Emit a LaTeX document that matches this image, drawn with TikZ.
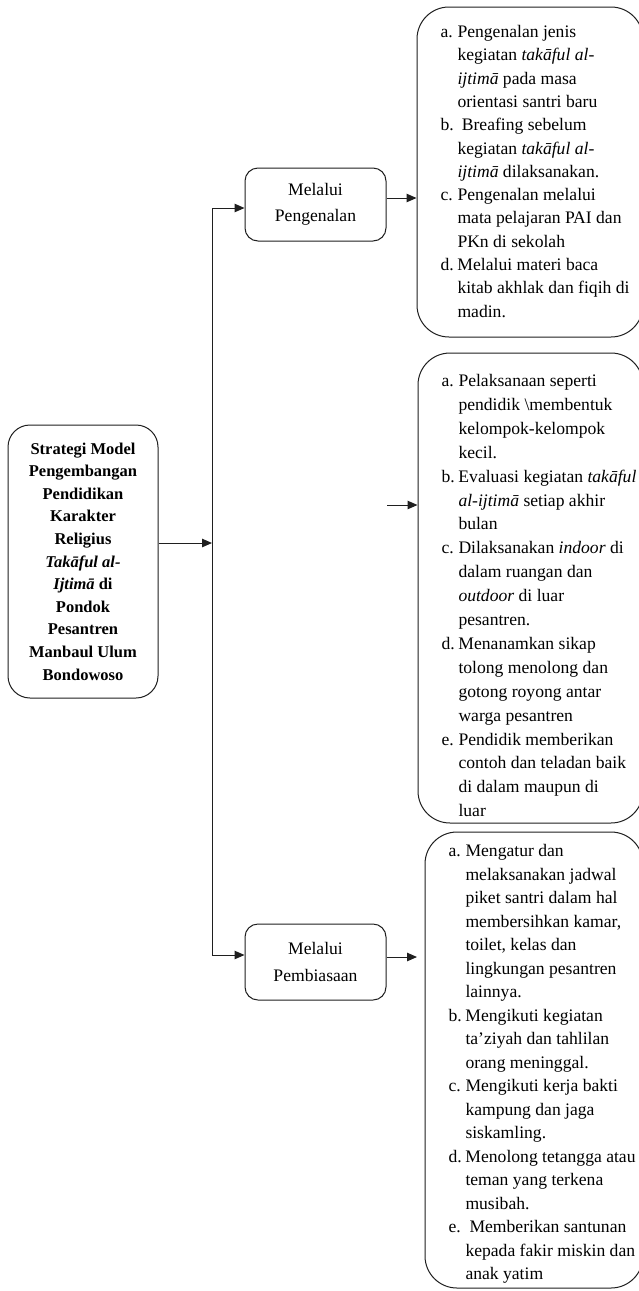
\documentclass[tikz,border=0pt]{standalone}
\usepackage{fontspec}
\setmainfont{Liberation Serif}
\usetikzlibrary{arrows.meta}

% list label of fixed width, continuation indent of the same width
\newcommand\lb[1]{\makebox[17pt][l]{#1}}
\newcommand\ind{\hspace*{17pt}}
% top-aligned text block whose baseline is that of its first line
\newcommand\listblock[2]{\begin{minipage}[t]{215pt}\parindent=0pt\fontsize{17.6}{#1}\selectfont #2\end{minipage}}

\begin{document}
\begin{tikzpicture}[x=1pt,y=-1pt,
  line width=1pt, draw=black!88,
  arr/.style={draw=black!88, line width=1pt, -{Triangle[length=10pt,width=8.5pt]}},
  mainbox/.style={draw, fill=white, rounded corners=22pt, align=center, inner sep=0pt,
    font=\fontsize{16.5}{22.6}\selectfont\bfseries},
  smallbox/.style={draw, fill=white, rounded corners=13pt, align=center, inner sep=0pt,
    minimum width=141pt, font=\fontsize{17.6}{26.5}\selectfont},
  bigbox/.style={draw, fill=white, rounded corners=32pt},
  listtext/.style={anchor=base west, inner sep=0pt}
]
\useasboundingbox (0,0) rectangle (639,1291);
\clip (0,0) rectangle (639,1291);
\fill[white] (0,0) rectangle (639,1291);

% central box
\node[mainbox, minimum width=150pt, minimum height=273pt] (main) at (83,561.5)
  {Strategi Model\\Pengembangan\\Pendidikan\\Karakter\\Religius\\
   \textit{Takāful al-}\\\textit{Ijtimā} di\\Pondok\\Pesantren\\Manbaul Ulum\\Bondowoso};

% strategy boxes
\node[smallbox, minimum height=73pt] (peng) at (315.5,204.5) {Melalui\\Pengenalan};
\node[smallbox, minimum height=76pt] (pemb) at (315.5,962) {Melalui\\Pembiasaan};

% detail boxes
\node[bigbox, minimum width=226pt, minimum height=330pt] (box1) at (530,172) {};
\node[bigbox, minimum width=225pt, minimum height=470pt] (box2) at (530.5,588) {};
\node[bigbox, minimum width=218pt, minimum height=456pt] (box3) at (534,1060) {};

\node[listtext] (t1) at (440,37.5) {\listblock{23.3}{%
\lb{a.}Pengenalan jenis\\
\ind kegiatan \textit{takāful al-}\\
\ind\textit{ijtimā} pada masa\\
\ind orientasi santri baru\\
\lb{b.}\ Breafing sebelum\\
\ind kegiatan \textit{takāful al-}\\
\ind\textit{ijtimā} dilaksanakan.\\
\lb{c.}Pengenalan melalui\\
\ind mata pelajaran PAI dan\\
\ind PKn di sekolah\\
\lb{d.}Melalui materi baca\\
\ind kitab akhlak dan fiqih di\\
\ind madin.}};

\node[listtext] (t2) at (441,386.5) {\listblock{23.9}{%
\lb{a.}Pelaksanaan seperti\\
\ind pendidik \textbackslash membentuk\\
\ind kelompok-kelompok\\
\ind kecil.\\
\lb{b.}Evaluasi kegiatan \textit{takāful}\\
\ind\textit{al-ijtimā} setiap akhir\\
\ind bulan\\
\lb{c.}Dilaksanakan \textit{indoor} di\\
\ind dalam ruangan dan\\
\ind\textit{outdoor} di luar\\
\ind pesantren.\\
\lb{d.}Menanamkan sikap\\
\ind tolong menolong dan\\
\ind gotong royong antar\\
\ind warga pesantren\\
\lb{e.}Pendidik memberikan\\
\ind contoh dan teladan baik\\
\ind di dalam maupun di\\
\ind luar}};

\node[listtext] (t3) at (448,856.5) {\listblock{23.5}{%
\lb{a.}Mengatur dan\\
\ind melaksanakan jadwal\\
\ind piket santri dalam hal\\
\ind membersihkan kamar,\\
\ind toilet, kelas dan\\
\ind lingkungan pesantren\\
\ind lainnya.\\
\lb{b.}Mengikuti kegiatan\\
\ind ta’ziyah dan tahlilan\\
\ind orang meninggal.\\
\lb{c.}Mengikuti kerja bakti\\
\ind kampung dan jaga\\
\ind siskamling.\\
\lb{d.}Menolong tetangga atau\\
\ind teman yang terkena\\
\ind musibah.\\
\lb{e.}\hspace*{4pt}Memberikan santunan\\
\ind kepada fakir miskin dan\\
\ind anak yatim}};

% connector points
\coordinate (jm) at (212,543);
\coordinate (vt) at (212,208);
\coordinate (vb) at (212,955);
\coordinate (pa) at (386,198);
\coordinate (fa) at (387,505);
\coordinate (pb) at (417,957);

% connectors
\draw[arr] (main.east |- jm) -- (jm);
\draw (vt) -- (vb);
\draw[arr] (vt) -- (peng.west |- vt);
\draw[arr] (vb) -- (pemb.west |- vb);
\draw[arr] (peng.east |- pa) -- (box1.west |- pa);
\draw[arr] (fa) -- (box2.west |- fa);
\draw[arr] (pemb.east |- pb) -- (pb);
\end{tikzpicture}
\end{document}
